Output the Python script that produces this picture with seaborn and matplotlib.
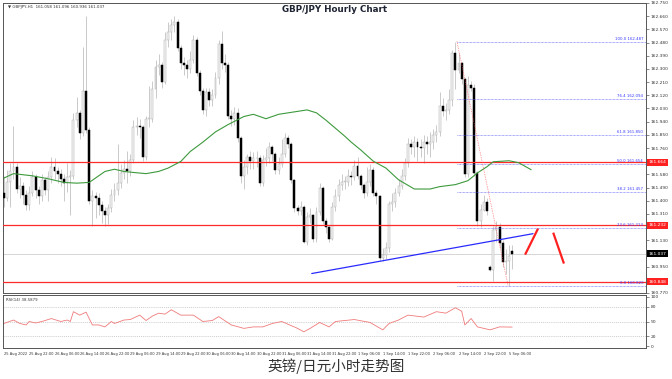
import matplotlib
matplotlib.use('Agg')
import matplotlib.pyplot as plt
import matplotlib.transforms as mtrans
import seaborn as sns
import numpy as np

sns.set_style('white')
plt.rcParams['font.family'] = ['DejaVu Sans']

# ---------------- data ----------------
opens = [
161.45,161.42,161.53,161.60,161.63,161.48,161.50,161.44,161.37,161.45,
161.56,161.47,161.43,161.54,161.47,161.56,161.63,161.60,161.58,161.55,
161.52,161.56,161.57,161.95,162.00,161.86,162.15,161.88,161.40,161.43,
161.42,161.37,161.33,161.30,161.35,161.44,161.47,161.52,161.59,161.62,
161.60,161.68,161.90,161.91,161.90,161.70,161.96,161.96,162.16,162.31,
162.33,162.21,162.50,162.55,162.60,162.62,162.44,162.34,162.33,162.30,
162.36,162.50,162.27,162.15,162.02,162.14,162.09,162.12,162.24,162.47,
162.34,162.33,161.98,161.96,162.00,161.83,161.57,161.63,161.70,161.67,
161.69,161.69,161.52,161.68,161.69,161.77,161.72,161.61,161.65,161.72,
161.83,161.79,161.54,161.35,161.33,161.36,161.12,161.29,161.30,161.14,
161.32,161.49,161.26,161.22,161.14,161.36,161.43,161.51,161.53,161.53,
161.57,161.56,161.64,161.57,161.51,161.45,161.53,161.61,161.45,161.43,
161.01,161.03,161.08,161.38,161.39,161.45,161.50,161.57,161.66,161.79,
161.77,161.80,161.77,161.76,161.80,161.79,161.80,161.85,161.87,162.05,
162.01,162.02,162.09,162.41,162.29,162.34,162.23,161.58,162.19,162.17,
161.59,161.26,161.34,161.39,160.95,160.93,161.20,161.22,161.11,160.98,
160.99,161.058]
closes = [
161.42,161.53,161.60,161.63,161.48,161.50,161.44,161.37,161.45,161.56,
161.47,161.43,161.54,161.47,161.56,161.63,161.60,161.58,161.55,161.52,
161.56,161.57,161.95,162.00,161.86,162.15,161.88,161.40,161.43,161.42,
161.37,161.33,161.30,161.35,161.44,161.47,161.52,161.59,161.62,161.60,
161.68,161.90,161.91,161.90,161.70,161.96,161.96,162.16,162.31,162.33,
162.21,162.50,162.55,162.60,162.62,162.44,162.34,162.33,162.30,162.36,
162.50,162.27,162.15,162.02,162.14,162.09,162.12,162.24,162.47,162.34,
162.33,161.98,161.96,162.00,161.83,161.57,161.63,161.70,161.67,161.69,
161.69,161.52,161.68,161.69,161.77,161.72,161.61,161.65,161.72,161.83,
161.79,161.54,161.35,161.33,161.36,161.12,161.29,161.30,161.14,161.32,
161.49,161.26,161.22,161.14,161.36,161.43,161.51,161.53,161.53,161.57,
161.56,161.64,161.57,161.51,161.45,161.53,161.61,161.45,161.43,161.01,
161.03,161.08,161.38,161.39,161.45,161.50,161.57,161.66,161.79,161.77,
161.80,161.77,161.76,161.80,161.79,161.80,161.85,161.87,162.05,162.01,
162.02,162.09,162.41,162.29,162.34,162.23,161.58,162.19,162.17,161.59,
161.26,161.34,161.39,161.33,160.93,161.20,161.22,161.11,160.98,160.99,
161.02,161.037]
highs = [
161.57,161.61,161.66,161.91,161.66,161.56,161.53,161.47,161.50,161.60,
161.58,161.50,161.58,161.56,161.60,161.70,161.69,161.63,161.62,161.58,
161.66,161.61,162.00,162.11,162.02,162.45,162.66,161.90,161.47,161.46,
161.45,161.40,161.36,161.38,161.48,161.52,161.79,161.65,161.68,161.74,
161.72,161.95,161.97,161.96,161.92,161.98,162.18,162.22,162.36,162.40,
162.35,162.55,162.62,162.64,162.66,162.64,162.46,162.38,162.36,162.42,
162.53,162.52,162.29,162.17,162.17,162.17,162.16,162.28,162.50,162.56,
162.40,162.35,162.02,162.04,162.03,161.84,161.68,161.72,161.74,161.73,
161.74,161.71,161.71,161.76,161.80,161.78,161.73,161.70,161.82,161.86,
161.85,161.80,161.55,161.37,161.40,161.37,161.32,161.35,161.31,161.36,
161.52,161.50,161.28,161.23,161.39,161.48,161.55,161.58,161.57,161.62,
161.60,161.68,161.70,161.58,161.52,161.63,161.65,161.63,161.47,161.44,
161.08,161.12,161.40,161.45,161.49,161.55,161.62,161.69,161.83,161.82,
161.84,161.83,161.82,161.85,161.84,161.87,161.89,161.92,162.14,162.10,
162.07,162.16,162.43,162.487,162.41,162.35,162.24,162.25,162.22,162.20,
161.60,161.38,161.44,161.42,160.96,161.23,161.26,161.25,161.13,161.07,
161.10,161.096]
lows = [
161.36,161.40,161.36,161.55,161.45,161.42,161.38,161.34,161.34,161.43,
161.42,161.38,161.40,161.44,161.40,161.52,161.55,161.52,161.50,161.40,
161.46,161.30,161.55,161.90,161.82,161.84,161.86,161.38,161.23,161.28,
161.30,161.25,161.23,161.24,161.32,161.40,161.44,161.49,161.55,161.52,
161.57,161.66,161.85,161.83,161.67,161.68,161.90,161.94,162.10,162.26,
162.17,162.20,162.45,162.50,162.55,162.42,162.30,162.26,162.24,162.27,
162.34,162.25,162.12,161.99,161.98,162.05,162.05,162.10,162.20,162.30,
162.28,161.96,161.91,161.92,161.80,161.52,161.48,161.58,161.62,161.62,
161.63,161.50,161.50,161.64,161.66,161.67,161.58,161.58,161.63,161.70,
161.76,161.52,161.32,161.30,161.30,161.11,161.10,161.25,161.12,161.12,
161.30,161.24,161.18,161.12,161.13,161.33,161.40,161.47,161.48,161.50,
161.51,161.54,161.55,161.48,161.42,161.43,161.50,161.43,161.38,160.99,
160.99,161.00,161.05,161.33,161.36,161.43,161.48,161.54,161.63,161.72,
161.70,161.67,161.70,161.66,161.72,161.70,161.75,161.80,161.84,161.98,
161.95,161.99,162.05,162.16,162.27,162.20,161.56,161.56,162.15,161.57,
161.23,161.22,161.33,161.30,160.92,160.85,161.12,161.08,160.95,160.90,
160.82,160.936]

ma_x = [0,3,9,14,19,23,27,29,32,35,38,41,45,49,52,56,59,63,67,71,76,79,83,87,93,96,
        99,102,105,108,110,113,117,121,125,130,135,138,143,147,150,153,155,160,163,167]
ma_v = [161.555,161.585,161.57,161.55,161.525,161.52,161.525,161.555,161.60,161.615,
        161.60,161.593,161.585,161.60,161.623,161.668,161.736,161.80,161.87,161.92,
        161.975,161.99,161.96,161.99,162.01,162.02,162.0,161.95,161.895,161.84,
        161.80,161.747,161.67,161.623,161.543,161.48,161.48,161.496,161.51,161.537,
        161.59,161.632,161.666,161.673,161.66,161.612]

rsi_x = [0,3,5,7,8,10,12,15,18,20,21,22,24,26,28,30,32,34,35,38,40,43,45,47,49,51,53,56,60,63,
         66,68,72,76,79,82,85,88,93,95,97,100,103,105,111,116,120,122,125,128,133,137,140,143,
         145,146,148,150,154,157,161]
rsi_v = [46,53,46,43,50,47,50,56,50,53,50,70,63,69,43,43,39,50,46,53,54,63,52,61,67,65,74,63,63,50,
         52,60,43,36,39,39,46,50,36,29,36,48,39,50,54,48,33,46,53,63,59,70,67,78,
         71,43,56,39,33,39,38.6]

x_labels = ['25 Aug 2022','25 Aug 22:00','26 Aug 06:00','26 Aug 14:00','26 Aug 22:00',
            '29 Aug 06:00','29 Aug 14:00','29 Aug 22:00','30 Aug 06:00','30 Aug 14:00',
            '30 Aug 22:00','31 Aug 06:00','31 Aug 14:00','31 Aug 22:00','1 Sep 06:00',
            '1 Sep 14:00','1 Sep 22:00','2 Sep 06:00','2 Sep 14:00','2 Sep 22:00','5 Sep 06:00']
x_label_bars = [0,8,16,24,32,40,48,56,64,72,80,88,96,104,112,120,128,136,144,152,160]

y_ticks = [162.750,162.660,162.570,162.480,162.390,162.300,162.210,162.120,162.030,161.940,
           161.850,161.760,161.580,161.490,161.400,161.310,161.130,160.950,160.770]

red_levels = [161.664, 161.232, 160.848]
last_price = 161.037
fib_names = ['100.0','76.4','61.8','50.0','38.2','23.6','0.0']
fib_levels = [162.487,162.094,161.850,161.654,161.457,161.213,160.820]
fib_start = 143.5
fib_diag_x = [143.5, 159.7]
fib_diag_y = [162.487, 160.820]
trend_x = [97.5, 167.6]
trend_y = [160.903, 161.175]
stroke1_x = [165.1, 169.2]; stroke1_y = [161.032, 161.21]
stroke2_x = [174.0, 177.4]; stroke2_y = [161.182, 160.971]

# ---------------- figure ----------------
W, H = 672, 379
fig = plt.figure(figsize=(W/100, H/100), dpi=100)
fig.patch.set_facecolor('white')

def rect(x0, y0, x1, y1):
    return [x0/W, 1 - y1/H, (x1 - x0)/W, (y1 - y0)/H]

ax = fig.add_axes(rect(3, 3, 646, 293))
axr = fig.add_axes(rect(3, 295, 646, 348))

XMIN, XMAX = -0.32, 203.4
ax.set_xlim(XMIN, XMAX)
ax.set_ylim(160.773, 162.75)
axr.set_xlim(XMIN, XMAX)
axr.set_ylim(-4, 104)

o = np.array(opens); c = np.array(closes); h = np.array(highs); l = np.array(lows)
idx = np.arange(len(c))
up = c >= o

# horizontal reference lines
ax.axhline(last_price, color='#cfcfcf', lw=0.6, zorder=1)
for lv in red_levels:
    ax.axhline(lv, color='#ff2a2a', lw=0.9, zorder=4)
ax.hlines(fib_levels, fib_start, XMAX, colors='#5a5aff', lw=0.5,
          linestyles=(0, (1, 1)), zorder=4)

# candles
ax.vlines(idx, l, h, color='#c2c2c2', lw=0.6, zorder=2)
ax.bar(idx[up], np.maximum((c - o)[up], 0.002), bottom=o[up], width=0.62,
       color='#f4f4f4', edgecolor='#b0b0b0', lw=0.35, zorder=3)
ax.bar(idx[~up], (c - o)[~up], bottom=o[~up], width=0.62,
       color='black', edgecolor='black', lw=0.35, zorder=3)

# moving average
sns.lineplot(x=ma_x, y=ma_v, ax=ax, color='#3d9a3d', lw=0.8, zorder=5)

# drawings
ax.plot(fib_diag_x, fib_diag_y, color='#ff5050', lw=0.5, ls=(0, (1, 1.5)), zorder=5)
ax.plot(trend_x, trend_y, color='#2a2aff', lw=0.9, zorder=5)
ax.plot(stroke1_x, stroke1_y, color='#ff2020', lw=1.6, solid_capstyle='butt', zorder=6)
ax.plot(stroke2_x, stroke2_y, color='#ff2020', lw=1.6, solid_capstyle='butt', zorder=6)

for name, lv in zip(fib_names, fib_levels):
    ax.text(202.5, lv + 0.006, f'{name} {lv:.3f}', ha='right', va='bottom',
            fontsize=2.8, color='#3a3aff', zorder=6)

# main axis ticks
ax.yaxis.tick_right()
ax.set_yticks(y_ticks)
ax.set_yticklabels([f'{v:.3f}' for v in y_ticks])
ax.tick_params(axis='y', labelsize=3.2, length=2, pad=1.5, width=0.4, colors='#333333')
ax.set_xticks([])
ax.set_xlabel(''); ax.set_ylabel('')

trans = mtrans.blended_transform_factory(ax.transAxes, ax.transData)
for lv in red_levels:
    ax.text(1.004, lv, f'{lv:.3f}', transform=trans, ha='left', va='center',
            fontsize=3.2, color='white', clip_on=False, zorder=7,
            bbox=dict(boxstyle='square,pad=0.35', facecolor='#ff2020', edgecolor='none'))
ax.text(1.004, last_price, f'{last_price:.3f}', transform=trans, ha='left', va='center',
        fontsize=3.2, color='white', clip_on=False, zorder=7,
        bbox=dict(boxstyle='square,pad=0.35', facecolor='black', edgecolor='none'))

# RSI panel
for lv in [80, 50, 20]:
    axr.axhline(lv, color='#bbbbbb', lw=0.5, ls=(0, (1.5, 1.5)))
sns.lineplot(x=rsi_x, y=rsi_v, ax=axr, color='#f07a7a', lw=0.6)
axr.yaxis.tick_right()
axr.set_yticks([0, 20, 50, 80, 100])
axr.set_yticklabels(['0', '20', '50', '80', '100'])
axr.tick_params(axis='y', labelsize=3.2, length=2, pad=1.5, width=0.4, colors='#333333')
axr.set_xticks(x_label_bars)
axr.set_xticklabels(x_labels, ha='left')
axr.tick_params(axis='x', labelsize=2.6, length=2, pad=1.2, width=0.4, colors='#333333')
axr.set_xlabel(''); axr.set_ylabel('')
axr.text(0.004, 0.95, 'RSI(14) 38.5879', transform=axr.transAxes, fontsize=2.8,
         color='#333333', ha='left', va='top')

for a in (ax, axr):
    for s in a.spines.values():
        s.set_color('#555555')
        s.set_linewidth(0.7)

# texts
fig.text(8/W, 1 - 7/H, '\u25bc GBPJPY,H1  161.058 161.096 160.936 161.037', fontsize=2.9,
         color='#333333', ha='left', va='center')
fig.text(335/W, 1 - 9.5/H, 'GBP/JPY Hourly Chart', fontsize=6.3, fontweight='bold',
         color='#1e2433', ha='center', va='center')
fig.text(336/W, 1 - 366/H, '英镑/日元小时走势图', family=['Noto Sans CJK SC', 'DejaVu Sans'],
         fontsize=10.5, color='#333333', ha='center', va='center')

fig.savefig('out.png', dpi=100, facecolor='white')
